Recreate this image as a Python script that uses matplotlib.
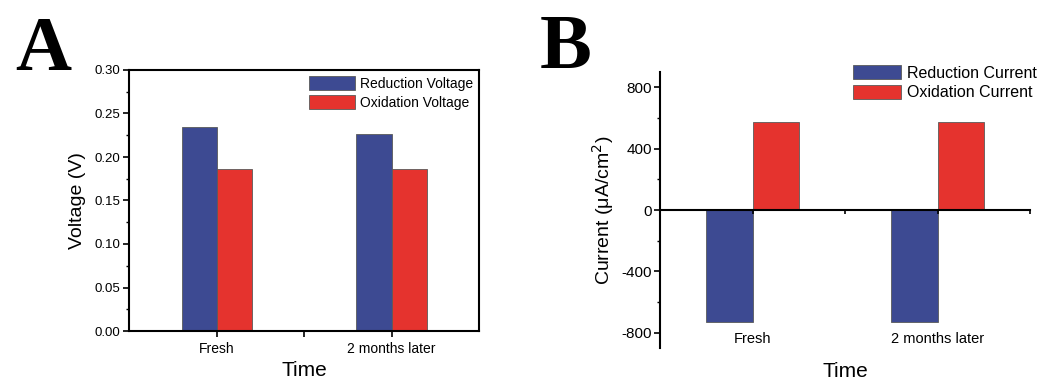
import matplotlib
matplotlib.use("Agg")
import matplotlib.pyplot as plt
import matplotlib.transforms as mtransforms
from matplotlib.ticker import MultipleLocator, FixedLocator, FormatStrFormatter
import numpy as np

# Data
categories = ["Fresh", "2 months later"]
reduction_voltage = [0.2345, 0.2268]
oxidation_voltage = [0.186, 0.186]
reduction_current = [-730, -730]
oxidation_current = [574, 574]

BLUE = "#3d4a92"
RED = "#e5332e"
EDGE = "#5a5a5a"
SANS = ["Liberation Sans", "DejaVu Sans"]
SERIF = ["Liberation Serif", "DejaVu Serif"]

plt.rcParams["font.family"] = SANS
plt.rcParams["axes.unicode_minus"] = False

fig = plt.figure(figsize=(10.39, 3.83), dpi=100)
W, H = 1039, 383


def px_axes(l, t, r, b):
    return fig.add_axes([l / W, 1 - b / H, (r - l) / W, (b - t) / H])


x = np.arange(1, len(categories) + 1)

# ---------- Panel A: voltages ----------
axA = px_axes(129, 70, 479, 331)
wA = 0.2
axA.bar(x - wA / 2, reduction_voltage, wA, color=BLUE, edgecolor=EDGE,
        linewidth=0.6, label="Reduction Voltage")
axA.bar(x + wA / 2, oxidation_voltage, wA, color=RED, edgecolor=EDGE,
        linewidth=0.6, label="Oxidation Voltage")
axA.set_xlim(0.5, 2.5)
axA.set_ylim(0, 0.30)
axA.yaxis.set_major_locator(MultipleLocator(0.05))
axA.yaxis.set_minor_locator(MultipleLocator(0.025))
axA.yaxis.set_major_formatter(FormatStrFormatter("%.2f"))
axA.set_xticks([1, 1.5, 2])
axA.set_xticklabels([categories[0], "", categories[1]])
axA.tick_params(axis="y", which="major", direction="out", length=4,
                width=1.2, labelsize=9.5, pad=2)
axA.tick_params(axis="y", which="minor", direction="out", length=2, width=1.0)
axA.tick_params(axis="x", direction="out", length=4, width=1.2,
                labelsize=10, pad=4)
for s in axA.spines.values():
    s.set_linewidth(1.5)
axA.set_ylabel("Voltage (V)", fontsize=14, labelpad=6)
axA.set_xlabel("Time", fontsize=15)
axA.xaxis.set_label_coords(0.5, -0.115)
axA.legend(loc="upper left", bbox_to_anchor=(309 / W, 1 - 76 / H),
           bbox_transform=fig.transFigure, frameon=False, fontsize=10,
           handlelength=3.3, handleheight=1.2, handletextpad=0.4,
           labelspacing=0.3, borderpad=0, borderaxespad=0)
fig.text(15 / W, 1 - 70 / H, "A", family=SERIF, fontweight="bold",
         fontsize=56, ha="left", va="baseline")

# ---------- Panel B: currents ----------
axB = px_axes(660, 72, 1030, 348)
wB = 0.25
axB.bar(x - wB / 2, reduction_current, wB, color=BLUE, edgecolor=EDGE,
        linewidth=0.6, label="Reduction Current")
axB.bar(x + wB / 2, oxidation_current, wB, color=RED, edgecolor=EDGE,
        linewidth=0.6, label="Oxidation Current")
axB.set_xlim(0.5, 2.5)
axB.set_ylim(-900, 900)
axB.yaxis.set_major_locator(MultipleLocator(400))
axB.yaxis.set_minor_locator(MultipleLocator(200))
axB.spines["top"].set_visible(False)
axB.spines["right"].set_visible(False)
axB.spines["bottom"].set_position(("data", 0))
axB.spines["left"].set_linewidth(1.5)
axB.spines["bottom"].set_linewidth(1.5)
axB.xaxis.set_major_locator(FixedLocator([1, 1.5, 2, 2.5]))
axB.set_xticklabels([])
axB.tick_params(axis="x", direction="out", length=3, width=1.2)
axB.tick_params(axis="y", which="major", direction="out", length=4,
                width=1.2, labelsize=11, pad=2)
axB.tick_params(axis="y", which="minor", direction="out", length=2, width=1.0)
lab_tf = mtransforms.blended_transform_factory(axB.transData, axB.transAxes)
for xi, name in zip(x, categories):
    axB.text(xi, 0.058, name, transform=lab_tf, ha="center", va="top",
             fontsize=10.5)
axB.set_ylabel("Current (\u03bcA/cm$^2$)", fontsize=14, labelpad=4)
axB.set_xlabel("Time", fontsize=15)
axB.xaxis.set_label_coords(0.5, -0.05)
axB.legend(loc="upper left", bbox_to_anchor=(853 / W, 1 - 65 / H),
           bbox_transform=fig.transFigure, frameon=False, fontsize=11.5,
           handlelength=3.0, handleheight=1.0, handletextpad=0.4,
           labelspacing=0.25, borderpad=0, borderaxespad=0)
fig.text(540 / W, 1 - 68 / H, "B", family=SERIF, fontweight="bold",
         fontsize=56, ha="left", va="baseline")

fig.savefig("out.png", dpi=100)
